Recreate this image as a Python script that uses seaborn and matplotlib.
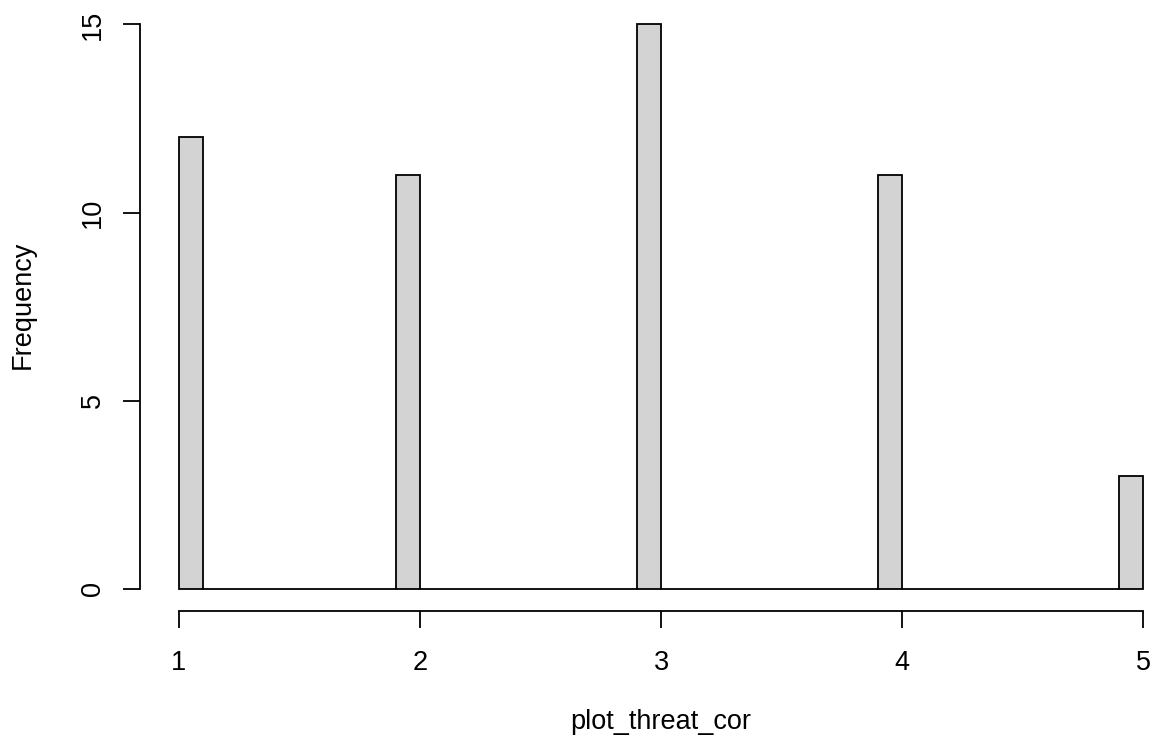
import numpy as np
import pandas as pd
import matplotlib
matplotlib.use("Agg")
import matplotlib.pyplot as plt
import seaborn as sns

# Data: observed values of plot_threat_cor and their frequencies
categories = [1, 2, 3, 4, 5]
counts = [12, 11, 15, 11, 3]
y_ticks = [0, 5, 10, 15]
x_ticks = [1, 2, 3, 4, 5]

sns.set_theme(style="white")
plt.rcParams['font.family'] = ['Liberation Sans', 'DejaVu Sans']

W, H = 1155, 745
fig = plt.figure(figsize=(W / 100, H / 100), dpi=100)

# axes placement in pixels (R-like plot region)
left_px, bottom_px, top_px = 140.4, 611.3, 1.9
ppu = 241.1  # pixels per x unit
ax = fig.add_axes([left_px / W, (H - bottom_px) / H, (W - left_px) / W, (bottom_px - top_px) / H])

# R's hist uses right-closed bins with include.lowest; place values in matching bins
vals = np.array(categories, dtype=float)
pos = np.where(vals == min(vals), vals + 0.05, vals - 0.05)
df = pd.DataFrame({"plot_threat_cor": pos, "n": counts})

sns.histplot(data=df, x="plot_threat_cor", weights="n", binwidth=0.1, binrange=(1, 5), ax=ax,
             color="#D3D3D3", edgecolor="black", linewidth=1.3, alpha=1)

ax.set_xlim(0.84, 0.84 + (W - left_px) / ppu)
ax.set_ylim(-0.6, 15.6)

for s in ["top", "right"]:
    ax.spines[s].set_visible(False)
for s in ["left", "bottom"]:
    ax.spines[s].set_color("black")
    ax.spines[s].set_linewidth(1.3)
ax.spines["left"].set_bounds(0, 15)
ax.spines["bottom"].set_bounds(1, 5)

ax.set_xticks(x_ticks)
ax.set_yticks(y_ticks)
ax.set_xticklabels([str(v) for v in x_ticks])
ax.set_yticklabels([str(v) for v in y_ticks], rotation=90, va="center")
ax.tick_params(axis="both", which="both", direction="out", length=12.2, width=1.3,
               color="black", labelsize=19.5, labelcolor="black", left=True, bottom=True)
ax.tick_params(axis="x", pad=15.5)
ax.tick_params(axis="y", pad=12.5)

ax.set_xlabel("plot_threat_cor", fontsize=19.5, color="black", va="center")
ax.set_ylabel("Frequency", fontsize=19.5, color="black", va="center")
ax.xaxis.set_label_coords(661 / W, (H - 722) / H, transform=fig.transFigure)
ax.yaxis.set_label_coords(23 / W, (H - 305) / H, transform=fig.transFigure)
ax.grid(False)
ax.set_facecolor("white")
fig.patch.set_facecolor("white")

fig.savefig("out.png", dpi=100, facecolor="white")
